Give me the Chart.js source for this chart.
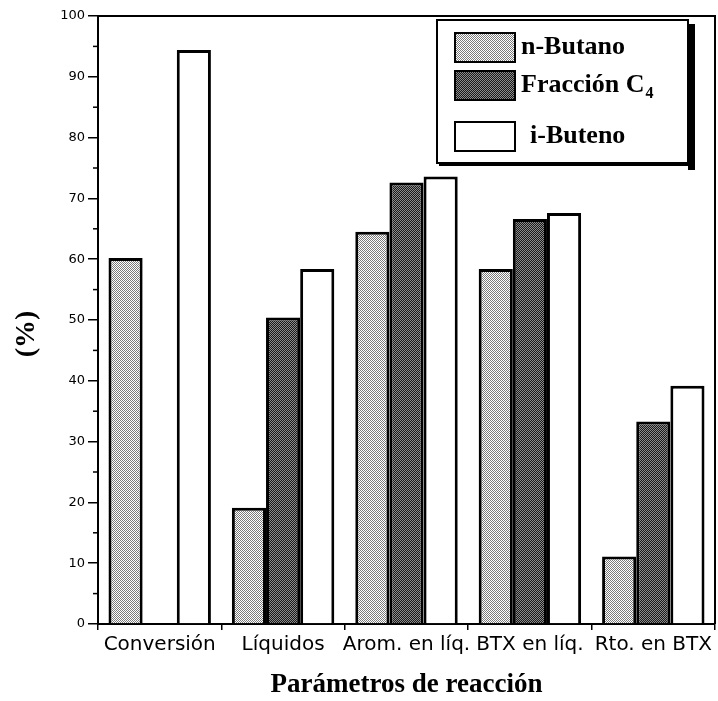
<!DOCTYPE html>
<html lang="es">
<head>
<meta charset="UTF-8">
<title>Parámetros de reacción</title>
<script src="https://cdn.jsdelivr.net/npm/chart.js"></script>
<style>
  html, body { margin: 0; padding: 0; background: #fff; }
  #wrap { width: 718px; height: 701px; position: relative; }
</style>
</head>
<body>
<div id="wrap"><canvas id="chart"></canvas></div>
<script>
// data
const categories = ['Conversión', 'Líquidos', 'Arom. en líq.', 'BTX en líq.', 'Rto. en BTX'];
const nButano    = [60.2, 19.1, 64.5, 58.4, 11.1];
const fraccionC4 = [null, 50.4, 72.6, 66.6, 33.3];
const iButeno    = [94.4, 58.4, 73.6, 67.6, 39.2];
const seriesNames = ['n-Butano', 'Fracción C4', 'i-Buteno'];
const yMin = 0, yMax = 100, yStep = 10;

const canvas = document.getElementById('chart');
const ctx = canvas.getContext('2d');

// fine dot screens like the printed figure
function dots(a, b) {
    const c = document.createElement('canvas');
    c.width = 2; c.height = 2;
    const g = c.getContext('2d');
    g.fillStyle = a; g.fillRect(0, 0, 2, 2);
    g.fillStyle = b; g.fillRect(0, 0, 1, 1); g.fillRect(1, 1, 1, 1);
    return ctx.createPattern(c, 'repeat');
}
const lightFill = dots('#ffffff', '#7a7a7a');
const darkFill = dots('#1a1a1a', '#8c8c8c');

const serif = "'Liberation Serif', 'DejaVu Serif', serif";
const sans = "'DejaVu Sans', 'Liberation Sans', sans-serif";

// boxed legend with a drop shadow, top right inside the plot
const boxLegend = {
    id: 'boxLegend',
    afterDraw(chart) {
        const c = chart.ctx, a = chart.chartArea;
        const w = 251, h = 143;
        const x = a.right - 278, y = a.top + 4;
        c.save();
        c.fillStyle = '#000';
        c.fillRect(x + w, y + 4, 7, h + 3);
        c.fillRect(x + 2, y + h, w, 3);
        c.fillStyle = '#fff';
        c.fillRect(x, y, w, h);
        c.lineWidth = 2;
        c.strokeStyle = '#000';
        c.strokeRect(x, y, w, h);
        const rows = [27, 65, 116];
        chart.data.datasets.forEach((ds, i) => {
            const cy = y + rows[i];
            c.fillStyle = ds.backgroundColor;
            c.fillRect(x + 18, cy - 14, 60, 29);
            c.lineWidth = 2;
            c.strokeRect(x + 18, cy - 14, 60, 29);
            c.fillStyle = '#000';
            c.textBaseline = 'middle';
            c.textAlign = 'left';
            c.font = 'bold 26px ' + serif;
            const m = ds.label.match(/^(.*C)(\d)$/);
            const tx = x + (i === 2 ? 93 : 84);
            if (m) {
                c.fillText(m[1], tx, cy);
                const wMain = c.measureText(m[1]).width;
                c.font = 'bold 16px ' + serif;
                c.fillText(m[2], tx + wMain + 1, cy + 9);
            } else {
                c.fillText(ds.label, tx, cy);
            }
        });
        c.restore();
    }
};

// top and right frame lines plus short minor ticks on the y axis
const frame = {
    id: 'frame',
    afterDraw(chart) {
        const c = chart.ctx, a = chart.chartArea, ys = chart.scales.y;
        c.save();
        c.strokeStyle = '#000';
        c.lineWidth = 2;
        c.beginPath();
        c.moveTo(a.left, a.top);
        c.lineTo(a.right, a.top);
        c.lineTo(a.right, a.bottom);
        c.stroke();
        c.lineWidth = 1.5;
        for (let v = yMin + yStep / 2; v < yMax; v += yStep) {
            const py = ys.getPixelForValue(v);
            c.beginPath();
            c.moveTo(a.left - 5, py);
            c.lineTo(a.left, py);
            c.stroke();
        }
        c.restore();
    }
};

new Chart(ctx, {
    type: 'bar',
    data: {
        labels: categories,
        datasets: [
            { label: seriesNames[0], data: nButano, backgroundColor: lightFill },
            { label: seriesNames[1], data: fraccionC4, backgroundColor: darkFill },
            { label: seriesNames[2], data: iButeno, backgroundColor: '#ffffff' }
        ]
    },
    options: {
        responsive: true,
        maintainAspectRatio: false,
        animation: false,
        layout: { padding: { left: 0, right: 3, top: 16, bottom: 0 } },
        datasets: {
            bar: {
                borderColor: '#000',
                borderWidth: 3,
                borderSkipped: 'bottom',
                barPercentage: 1,
                categoryPercentage: 0.83
            }
        },
        plugins: {
            legend: { display: false },
            tooltip: { enabled: false }
        },
        scales: {
            x: {
                grid: { display: true, drawOnChartArea: false, offset: true, tickLength: 6, color: '#000', lineWidth: 1.5 },
                border: { color: '#000', width: 2 },
                ticks: { color: '#000', font: { family: sans, size: 20 }, padding: 3, maxRotation: 0, autoSkip: false },
                title: {
                    display: true,
                    text: 'Parámetros de reacción',
                    color: '#000',
                    font: { family: serif, size: 27, weight: 'bold' },
                    padding: { top: 0, bottom: 0 }
                },
                afterFit(scale) { scale.height = 77; }
            },
            y: {
                min: yMin,
                max: yMax,
                grid: { display: true, drawOnChartArea: false, tickLength: 10, color: '#000', lineWidth: 1.5 },
                border: { color: '#000', width: 2 },
                ticks: { stepSize: yStep, color: '#000', font: { family: sans, size: 13 }, padding: 3 },
                title: {
                    display: true,
                    text: '(%)    ',
                    color: '#000',
                    font: { family: serif, size: 28, weight: 'bold' },
                    padding: { top: 10, bottom: 0 }
                },
                afterFit(scale) { scale.width = 98; }
            }
        }
    },
    plugins: [boxLegend, frame]
});
</script>
</body>
</html>
